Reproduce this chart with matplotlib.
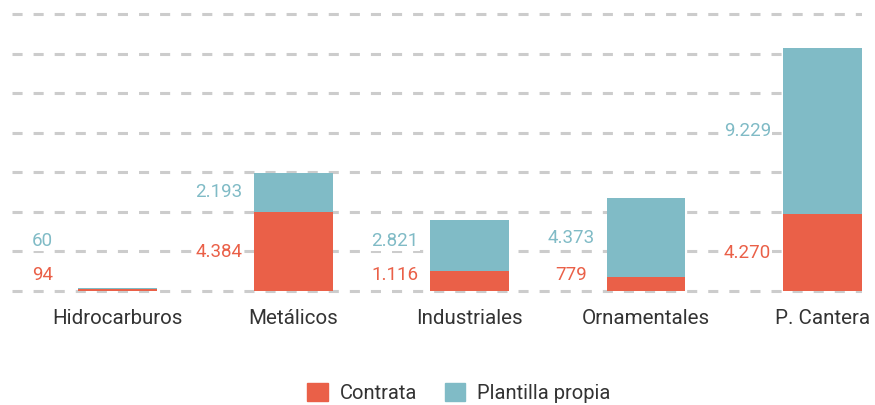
import numpy as np
import matplotlib
matplotlib.use("Agg")
import matplotlib.pyplot as plt
from matplotlib.patches import Patch

plt.rcParams["font.family"] = ["Roboto", "DejaVu Sans"]

RED, TEAL = "#ea6048", "#80bbc6"
GRID_C, INK = "#cccccc", "#333333"

categories = ["Hidrocarburos", "Metálicos", "Industriales", "Ornamentales", "P. Cantera"]
contrata = [94, 4384, 1116, 779, 4270]
plantilla = [60, 2193, 2821, 4373, 9229]
series_names = ["Contrata", "Plantilla propia"]
grid_ticks = np.arange(0, 15401, 2200)


def fmt(v):
    # thousands separated with a dot
    return f"{v:,}".replace(",", ".")


fig = plt.figure(figsize=(8.75, 4.05), dpi=100, facecolor="white")
ax = fig.add_axes([12 / 875, 1 - 295 / 405, 850 / 875, 285 / 405])

x = np.arange(len(categories))
c = np.array(contrata)
p = np.array(plantilla)
w = 0.448
ax.bar(x, c, width=w, color=RED, zorder=3)
ax.bar(x, p, bottom=c, width=w, color=TEAL, zorder=3)

# value labels sit to the left of each bar, kept apart when segments are thin
off = 0.425
box = dict(facecolor="white", edgecolor="none", pad=1.0)
for xi, cv, pv in zip(x, c, p):
    yc = max(cv / 2, 900)
    yp = max(cv + pv / 2, yc + 1900)
    ax.text(xi - off, yc, fmt(cv), color=RED, fontsize=13.5,
            ha="center", va="center", zorder=4, bbox=box)
    ax.text(xi - off, yp, fmt(pv), color=TEAL, fontsize=13.5,
            ha="center", va="center", zorder=4, bbox=box)

ax.set_yticks(grid_ticks)
ax.grid(axis="y", color=GRID_C, lw=2.2, ls=(0, (3.3, 3.6)), zorder=0)
ax.set_ylim(-222, 15622)
ax.set_xlim(-0.598, 4.226)
ax.set_xticks(x)
ax.set_xticklabels(categories, fontsize=14.8, color=INK)
ax.tick_params(axis="x", length=0, pad=10)
ax.tick_params(axis="y", length=0, labelleft=False)
for s in ax.spines.values():
    s.set_visible(False)

handles = [Patch(color=RED), Patch(color=TEAL)]
fig.legend(handles, series_names, loc="center", bbox_to_anchor=(459 / 875, 1 - 393 / 405),
           ncol=2, frameon=False, fontsize=14.5, labelcolor=INK,
           handlelength=1.0, handleheight=1.0, handletextpad=0.62,
           columnspacing=1.35)

fig.savefig("out.png", dpi=100, facecolor="white")
